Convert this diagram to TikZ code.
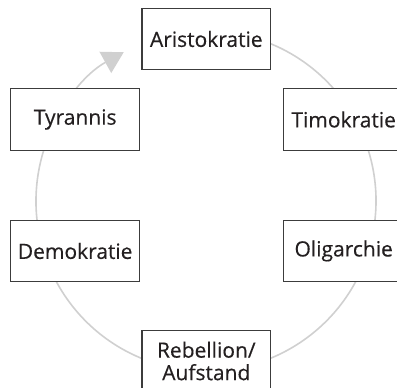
\documentclass[tikz,border=0pt]{standalone}
\usepackage{fontspec}
\setmainfont[FakeBold=0.35]{Open Sans}
\usetikzlibrary{arrows.meta}
\definecolor{boxline}{HTML}{3C3C3C}
\definecolor{ring}{HTML}{D0D0D0}
\definecolor{txt}{HTML}{231F20}
\begin{document}
\begin{tikzpicture}[x=1pt,y=1pt,
  stagebox/.style={draw=boxline, line width=1.2pt, fill=white, text=txt,
    minimum width=128.7pt, minimum height=61.7pt, inner sep=0pt,
    font=\fontsize{21}{22.5}\selectfont, align=center},
  ringline/.style={draw=ring, line width=1.6pt}]
\useasboundingbox (0,0) rectangle (397,388);
\clip (0,0) rectangle (397,388);
\coordinate (c) at (206,187);
\draw[ringline, -{Triangle[length=21pt,width=24pt]}, ring]
  ([shift={(80:170)}]c) arc[start angle=80, end angle=-241.05, radius=170];
\node[stagebox] (aris) at (206.3,349) {Aristokratie};
\node[stagebox] (tyr) at (75.2,268.5) {Tyrannis};
\node[stagebox, minimum width=120.4pt] (tim) at (343.7,268.5) {Timokratie};
\node[stagebox] (dem) at (75.2,137) {Demokratie};
\node[stagebox, minimum width=120.4pt] (oli) at (343.7,137) {Oligarchie};
\node[stagebox] (reb) at (206.3,27) {Rebellion/\\Aufstand};
\end{tikzpicture}
\end{document}
